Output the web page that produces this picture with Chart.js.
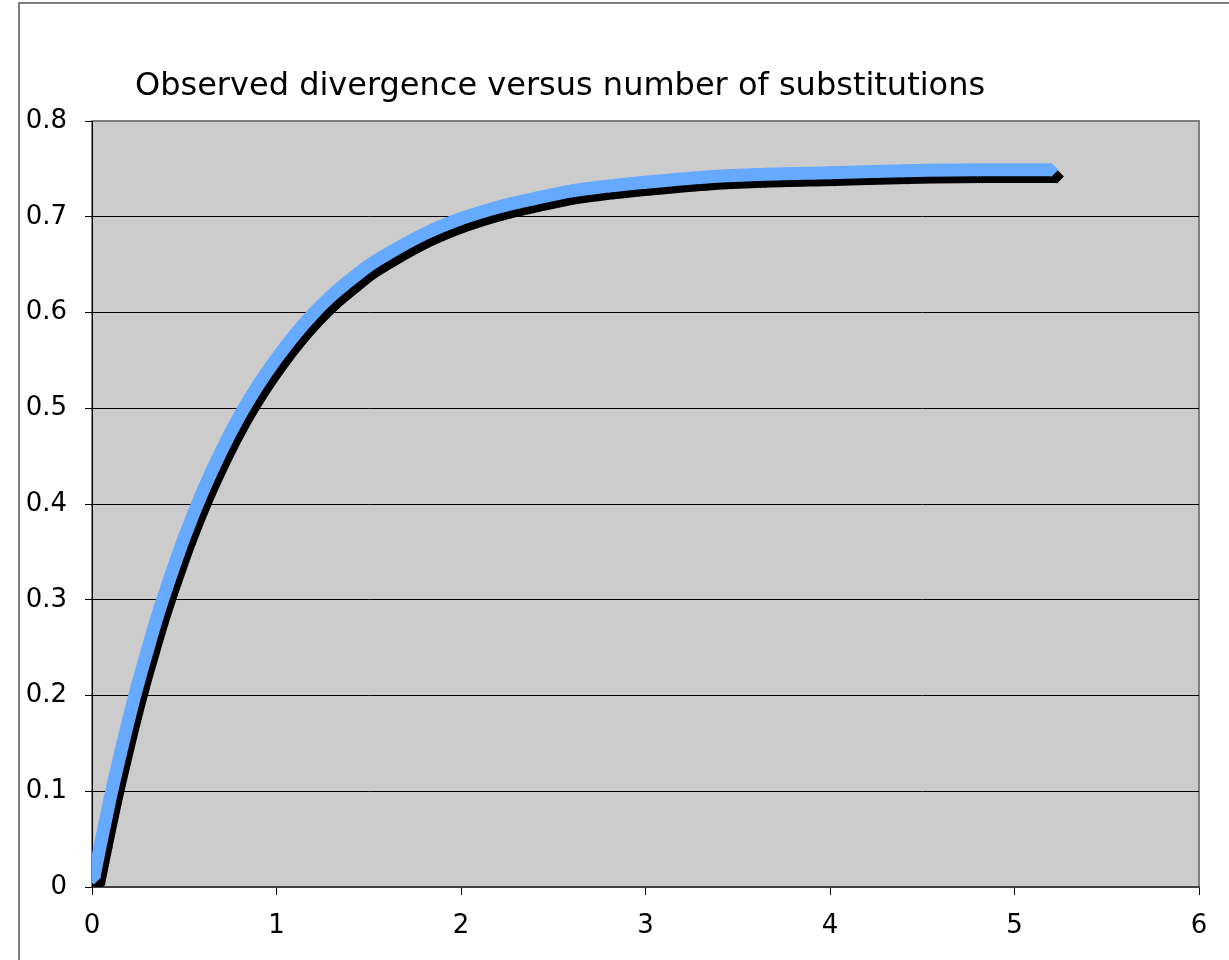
<!DOCTYPE html>
<html>
<head>
<meta charset="utf-8">
<script src="https://cdn.jsdelivr.net/npm/chart.js@4/dist/chart.umd.min.js"></script>
<style>
  html, body { margin: 0; padding: 0; background: #fff; }
  #wrap { width: 1229px; height: 960px; }
</style>
</head>
<body>
<div id="wrap"><canvas id="divChart" width="1229" height="960"></canvas></div>
<script>
const chartTitle = "Observed divergence versus number of substitutions";

// blue series
const blueX = [0.01, 0.05, 0.1, 0.15, 0.2, 0.25, 0.3, 0.35, 0.4, 0.45, 0.5, 0.6, 0.7, 0.8, 0.9, 1.0,
  1.1, 1.2, 1.3, 1.4, 1.5, 1.6, 1.8, 2.0, 2.2, 2.4, 2.6, 2.8, 3.0, 3.3, 3.6, 4.0, 4.4, 4.8, 5.2];
const blueY = [0.010, 0.048, 0.094, 0.136, 0.176, 0.213, 0.247, 0.280, 0.310, 0.338, 0.365, 0.413, 0.455, 0.492, 0.524, 0.552,
  0.577, 0.599, 0.618, 0.634, 0.649, 0.661, 0.682, 0.698, 0.710, 0.719, 0.727, 0.732, 0.736, 0.741, 0.744, 0.746, 0.748, 0.749, 0.749];

// black series, sits just below / right of the blue one
const blackX = [0.035, 0.075, 0.125, 0.175, 0.225, 0.275, 0.325, 0.375, 0.425, 0.475, 0.525, 0.625, 0.725, 0.825, 0.925, 1.025,
  1.125, 1.225, 1.325, 1.425, 1.525, 1.625, 1.825, 2.025, 2.225, 2.425, 2.625, 2.825, 3.025, 3.325, 3.625, 4.025, 4.425, 4.825, 5.23];
const blackY = [0.003, 0.041, 0.087, 0.129, 0.169, 0.206, 0.240, 0.273, 0.303, 0.331, 0.358, 0.406, 0.448, 0.485, 0.517, 0.545,
  0.570, 0.592, 0.611, 0.627, 0.642, 0.654, 0.675, 0.691, 0.703, 0.712, 0.720, 0.725, 0.729, 0.734, 0.737, 0.739, 0.741, 0.742, 0.742];

const xTicks = [0, 1, 2, 3, 4, 5, 6];
const yTicks = [0, 0.1, 0.2, 0.3, 0.4, 0.5, 0.6, 0.7, 0.8];

const toPoints = (xs, ys) => xs.map((x, i) => ({ x: x, y: ys[i] }));

const backdrop = {
  id: "backdrop",
  beforeDraw(chart) {
    const { ctx, chartArea: a } = chart;
    ctx.save();
    ctx.fillStyle = "#ffffff";
    ctx.fillRect(0, 0, chart.width, chart.height);
    // outer frame of the chart object (runs off the right / bottom)
    ctx.strokeStyle = "#808080";
    ctx.lineWidth = 2;
    ctx.strokeRect(19, 3, 1400, 1200);
    // plot area
    ctx.fillStyle = "#cccccc";
    ctx.fillRect(a.left, a.top, a.right - a.left, a.bottom - a.top);
    ctx.strokeRect(a.left, a.top, a.right - a.left, a.bottom - a.top);
    // title
    ctx.fillStyle = "#000";
    ctx.font = "32px 'DejaVu Sans'";
    ctx.textBaseline = "alphabetic";
    ctx.fillText(chartTitle, 135, 95);
    ctx.restore();
  }
};

const seriesStyle = {
  showLine: true,
  borderWidth: 13,
  cubicInterpolationMode: "monotone",
  pointStyle: "rectRot",
  pointRadius: 7,
  pointBorderWidth: 0
};

new Chart(document.getElementById("divChart"), {
  type: "scatter",
  data: {
    datasets: [
      Object.assign({
        label: "blue",
        data: toPoints(blueX, blueY),
        borderColor: "#66aaff",
        backgroundColor: "#66aaff",
        order: 0
      }, seriesStyle),
      Object.assign({
        label: "black",
        data: toPoints(blackX, blackY),
        borderColor: "#000000",
        backgroundColor: "#000000",
        order: 1
      }, seriesStyle)
    ]
  },
  options: {
    responsive: false,
    animation: false,
    layout: { padding: { top: 121, right: 30, bottom: 0, left: 0 } },
    plugins: {
      legend: { display: false },
      tooltip: { enabled: false },
      title: { display: false }
    },
    scales: {
      x: {
        type: "linear",
        min: 0,
        max: 6,
        afterBuildTicks: s => { s.ticks = xTicks.map(v => ({ value: v })); },
        afterFit: s => { s.height = 73; },
        grid: { drawOnChartArea: false, tickLength: 8, tickColor: "#000", color: "#000" },
        border: { color: "#404040", width: 2 },
        ticks: { color: "#000", padding: 16, font: { family: "DejaVu Sans", size: 26 }, maxRotation: 0 }
      },
      y: {
        type: "linear",
        min: 0,
        max: 0.8,
        afterBuildTicks: s => { s.ticks = yTicks.map(v => ({ value: v })); },
        afterFit: s => { s.width = 92; },
        grid: {
          color: c => (c.tick && c.tick.value >= 0.8 ? "#808080" : "#000"),
          lineWidth: 1,
          tickLength: 7,
          tickColor: "#000"
        },
        border: { color: "#000", width: 1 },
        ticks: { color: "#000", padding: 18, font: { family: "DejaVu Sans", size: 26 } }
      }
    }
  },
  plugins: [backdrop]
});
</script>
</body>
</html>
